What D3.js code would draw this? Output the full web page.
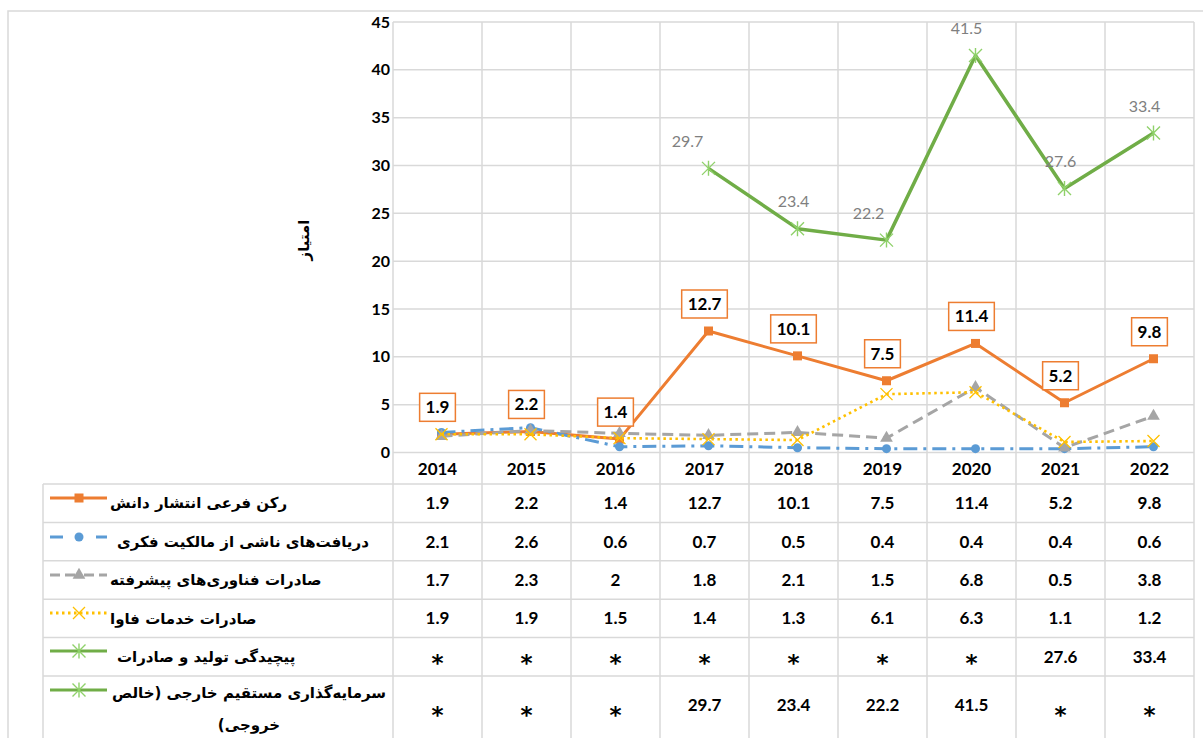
<!DOCTYPE html>
<html><head><meta charset="utf-8">
<script src="https://cdn.jsdelivr.net/npm/d3@7"></script>
<style>body{margin:0;background:#fff}svg{display:block}</style>
</head><body>
<svg id="c" width="1203" height="738"></svg>
<script>
const years = ["2014","2015","2016","2017","2018","2019","2020","2021","2022"];
const knowledge = [1.9,2.2,1.4,12.7,10.1,7.5,11.4,5.2,9.8];
const ipReceipts = [2.1,2.6,0.6,0.7,0.5,0.4,0.4,0.4,0.6];
const hiTechExports = [1.7,2.3,2,1.8,2.1,1.5,6.8,0.5,3.8];
const ictExports = [1.9,1.9,1.5,1.4,1.3,6.1,6.3,1.1,1.2];
const complexity = [null,null,null,null,null,null,null,27.6,33.4];
const fdi = [null,null,null,29.7,23.4,22.2,41.5,null,null];
const yTicks = [0,5,10,15,20,25,30,35,40,45];
const seriesNames = [
  "رکن فرعی انتشار دانش",
  "دریافت‌های ناشی از مالکیت فکری",
  "صادرات فناوری‌های پیشرفته",
  "صادرات خدمات فاوا",
  "پیچیدگی تولید و صادرات",
  "سرمایه‌گذاری مستقیم خارجی (خالص خروجی)"
];
const yTitle = "امتیاز";

const svg = d3.select("#c");
const grid = "#d9d9d9";
const numFont = "Lato, 'Open Sans', sans-serif";
const faFont = "'DejaVu Sans', sans-serif";

// outer chart border
svg.append("rect").attr("x",8).attr("y",11).attr("width",1230).attr("height",800)
  .attr("fill","none").attr("stroke",grid).attr("stroke-width",1.5);

const x = d3.scaleBand().domain(years).range([393,1194]);
const y = d3.scaleLinear().domain([0,45]).range([452.5,22]);
const mx = d => x(d) + x.bandwidth()/2 + 4;

// horizontal gridlines
svg.append("g").selectAll("line").data(yTicks).join("line")
  .attr("x1",393).attr("x2",1194).attr("y1",d=>y(d)).attr("y2",d=>y(d))
  .attr("stroke",grid).attr("stroke-width",1.5);

// y axis labels
svg.append("g").selectAll("text").data(yTicks).join("text")
  .attr("x",390).attr("y",d=>y(d)).attr("dy","0.35em").attr("text-anchor","end")
  .attr("font-family",numFont).attr("font-weight","bold").attr("font-size",16)
  .attr("fill","#000").text(d=>d);

// y title
svg.append("text").attr("transform","translate(304,240) rotate(-90)")
  .attr("text-anchor","middle").attr("dy","0.35em").attr("direction","rtl")
  .attr("font-family",faFont).attr("font-weight","bold").attr("font-size",15)
  .text(yTitle);

// vertical lines (plot + table)
const bounds = years.map(d=>x(d)).concat([x(years[years.length-1])+x.bandwidth()]);
svg.append("g").selectAll("line").data(bounds).join("line")
  .attr("x1",d=>d).attr("x2",d=>d).attr("y1",22).attr("y2",760)
  .attr("stroke",grid).attr("stroke-width",1.5);

// table rows
const rowTops = [484,522.4,560.8,599.2,637.6,676];
const rowH = [38.4,38.4,38.4,38.4,38.4,80];
svg.append("g").selectAll("line").data(rowTops).join("line")
  .attr("x1",43).attr("x2",1194).attr("y1",d=>d).attr("y2",d=>d)
  .attr("stroke",grid).attr("stroke-width",1.5);
svg.append("line").attr("x1",43).attr("x2",43).attr("y1",484).attr("y2",760)
  .attr("stroke",grid).attr("stroke-width",1.5);

// year labels
svg.append("g").selectAll("text").data(years).join("text")
  .attr("x",d=>x(d)+x.bandwidth()/2).attr("y",469).attr("dy","0.35em")
  .attr("text-anchor","middle").attr("font-family",numFont).attr("font-weight","bold")
  .attr("font-size",17).text(d=>d);

// series definitions
const series = [
  {name:seriesNames[0], values:knowledge, color:"#ED7D31", dash:null, marker:"square"},
  {name:seriesNames[1], values:ipReceipts, color:"#5B9BD5", dash:"14,6,3,6", marker:"circle"},
  {name:seriesNames[2], values:hiTechExports, color:"#A5A5A5", dash:"11,6", marker:"triangle"},
  {name:seriesNames[3], values:ictExports, color:"#FFC000", dash:"2.5,3.5", marker:"x"},
  {name:seriesNames[4], values:complexity, color:"#70AD47", dash:null, marker:"star"},
  {name:seriesNames[5], values:fdi, color:"#70AD47", dash:null, marker:"star"}
];

function drawMarker(g, type, cx, cy, color){
  if(type==="square"){
    g.append("rect").attr("x",cx-4.5).attr("y",cy-4.5).attr("width",9).attr("height",9).attr("fill",color);
  } else if(type==="circle"){
    g.append("circle").attr("cx",cx).attr("cy",cy).attr("r",4.5).attr("fill",color);
  } else if(type==="triangle"){
    g.append("path").attr("d",d3.symbol(d3.symbolTriangle,70)()).attr("transform",`translate(${cx},${cy})`).attr("fill",color);
  } else if(type==="x"){
    const s=6;
    g.append("path").attr("d",`M${cx-s},${cy-s}L${cx+s},${cy+s}M${cx-s},${cy+s}L${cx+s},${cy-s}`)
      .attr("stroke",color).attr("stroke-width",1.3).attr("fill","none");
  } else if(type==="star"){
    const s=6.5;
    g.append("path").attr("d",`M${cx-s},${cy-s}L${cx+s},${cy+s}M${cx-s},${cy+s}L${cx+s},${cy-s}M${cx},${cy-s-1}L${cx},${cy+s+1}`)
      .attr("stroke",color).attr("stroke-width",1.4).attr("fill","none");
  }
}

const line = d3.line().defined(d=>d.v!=null).x(d=>mx(d.k)).y(d=>y(d.v));
const plot = svg.append("g");
series.slice(0,4).forEach(s=>{
  const pts = years.map((k,i)=>({k,v:s.values[i]}));
  plot.append("path").attr("d",line(pts)).attr("fill","none").attr("stroke",s.color)
    .attr("stroke-width",s.marker==="x"?2.6:3).attr("stroke-dasharray",s.dash)
    .attr("stroke-linejoin","round");
  const mg = plot.append("g");
  pts.filter(p=>p.v!=null).forEach(p=>drawMarker(mg,s.marker,mx(p.k),y(p.v),s.color));
});
// green: FDI and complexity plotted as one continuous line in the chart
const green = years.map((k,i)=>({k, v: fdi[i]!=null ? fdi[i] : complexity[i]}));
plot.append("path").attr("d",line(green)).attr("fill","none").attr("stroke","#70AD47")
  .attr("stroke-width",3.5).attr("stroke-linejoin","round");
const gm = plot.append("g");
green.filter(p=>p.v!=null).forEach(p=>drawMarker(gm,"star",mx(p.k),y(p.v),"#8fd16a"));

// green labels
const greenDx = [0,0,0,-21,-4,-18,-9,-4,-9];
svg.append("g").selectAll("text").data(green.map((p,i)=>({...p,i})).filter(p=>p.v!=null)).join("text")
  .attr("x",p=>mx(p.k)+greenDx[p.i]).attr("y",p=>y(p.v)-27).attr("dy","0.35em")
  .attr("text-anchor","middle").attr("font-family",numFont).attr("font-size",16)
  .attr("fill","#7f7f7f").text(p=>p.v);

// orange boxed labels
const lg = svg.append("g");
years.forEach((k,i)=>{
  const v = knowledge[i];
  const cx = x(k)+x.bandwidth()/2, cy = y(v)-27;
  const t = lg.append("text").attr("x",cx).attr("y",cy).attr("dy","0.35em")
    .attr("text-anchor","middle").attr("font-family",numFont).attr("font-weight","bold")
    .attr("font-size",17).attr("fill","#000").text(v);
  const w = t.node().getComputedTextLength()+12;
  lg.insert("rect","text").attr("x",cx-w/2).attr("y",cy-14).attr("width",w).attr("height",28)
    .attr("fill","#fff").attr("stroke","#ED7D31").attr("stroke-width",1.5);
});

// table values
const tbl = svg.append("g");
series.forEach((s,r)=>{
  const cy = r<5 ? rowTops[r]+rowH[r]/2 : 705;
  years.forEach((k,i)=>{
    const v = s.values[i];
    const cx = x(k)+x.bandwidth()/2;
    if(v==null){
      tbl.append("text").attr("x",cx).attr("y",cy+(r<5?14:18))
        .attr("text-anchor","middle").attr("font-family",faFont).attr("font-weight","bold")
        .attr("font-size",23).text("*");
    } else {
      tbl.append("text").attr("x",cx).attr("y",cy).attr("dy","0.35em")
        .attr("text-anchor","middle").attr("font-family",numFont).attr("font-weight","bold")
        .attr("font-size",17).text(v);
    }
  });
});

// legend keys and names
const keyY = [498,537,575,613,651,690];
series.forEach((s,r)=>{
  const g = svg.append("g");
  const ky = keyY[r];
  const segs = s.marker==="circle" ? [[50,63],[96,107]]
             : s.marker==="triangle" ? [[50,60],[65,75],[84,94],[99,107]]
             : [[50,107]];
  segs.forEach(sg=>g.append("line").attr("x1",sg[0]).attr("x2",sg[1]).attr("y1",ky).attr("y2",ky)
    .attr("stroke",s.color).attr("stroke-width",3)
    .attr("stroke-dasharray",s.marker==="x"?s.dash:null));
  drawMarker(g,s.marker,79,ky,s.marker==="star"?"#8fd16a":s.color);
  if(r<5){
    g.append("text").attr("x",r===1||r===4?117:110).attr("y",rowTops[r]+rowH[r]/2).attr("dy","0.35em")
      .attr("direction","rtl").attr("text-anchor","end").attr("font-family",faFont)
      .attr("font-weight","bold").attr("font-size",15).text(s.name);
  } else {
    const parts = ["سرمایه‌گذاری مستقیم خارجی (خالص","خروجی)"];
    g.append("text").attr("x",112).attr("y",693).attr("dy","0.35em")
      .attr("direction","rtl").attr("text-anchor","end").attr("font-family",faFont)
      .attr("font-weight","bold").attr("font-size",15).text(parts[0]);
    g.append("text").attr("x",249).attr("y",725).attr("dy","0.35em")
      .attr("direction","rtl").attr("text-anchor","middle").attr("font-family",faFont)
      .attr("font-weight","bold").attr("font-size",15).text(parts[1]);
  }
});
</script>
</body></html>
